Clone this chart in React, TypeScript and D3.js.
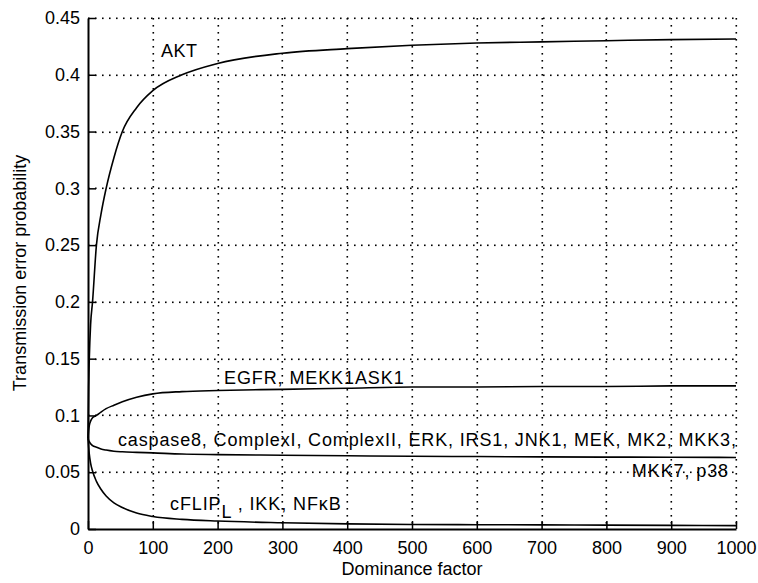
import React, { useEffect, useRef } from 'react'
import * as d3 from 'd3'

// dominance factor samples (shared by all curves)
const dominance = [0, 1, 2, 4, 7, 13, 20, 28, 40, 53, 75, 100, 145, 200, 300, 400, 500, 600, 700, 800, 900, 1000]

const akt = [0.08, 0.125, 0.15, 0.18, 0.2, 0.25, 0.277, 0.3, 0.327, 0.35, 0.371, 0.386, 0.4, 0.41, 0.419, 0.423, 0.426, 0.428, 0.429, 0.43, 0.431, 0.4315]
const egfr = [0.08, 0.087, 0.091, 0.095, 0.098, 0.1, 0.103, 0.106, 0.109, 0.112, 0.116, 0.119, 0.121, 0.122, 0.123, 0.124, 0.125, 0.125, 0.1255, 0.1255, 0.126, 0.126]
const caspase = [0.08, 0.078, 0.077, 0.075, 0.0735, 0.072, 0.0705, 0.0695, 0.0685, 0.068, 0.0675, 0.067, 0.066, 0.0655, 0.065, 0.0645, 0.064, 0.0638, 0.0635, 0.0633, 0.0632, 0.063]
const cflip = [0.08, 0.072, 0.066, 0.058, 0.051, 0.042, 0.035, 0.029, 0.023, 0.019, 0.014, 0.011, 0.0085, 0.007, 0.0055, 0.0045, 0.004, 0.0038, 0.0036, 0.0034, 0.0032, 0.003]

const xTicks = [0, 100, 200, 300, 400, 500, 600, 700, 800, 900, 1000]
const yTicks = [0, 0.05, 0.1, 0.15, 0.2, 0.25, 0.3, 0.35, 0.4, 0.45]

const FONT = '"Liberation Sans", Arial, sans-serif'

export default function App() {
  const ref = useRef<SVGSVGElement>(null)

  useEffect(() => {
    if (!ref.current) return
    const svg = d3.select(ref.current)
    svg.selectAll('*').remove()

    const x = d3.scaleLinear().domain([0, 1000]).range([88, 736])
    const y = d3.scaleLinear().domain([0, 0.45]).range([529, 18])

    svg.append('rect').attr('width', 758).attr('height', 583).attr('fill', '#fff')

    // dotted grid, drawn as small square dots
    const step = 7
    const dots = svg.append('g').attr('fill', '#000')
    xTicks.slice(1).forEach((t) => {
      const gx = Math.round(x(t))
      d3.range(y(0.45), y(0), step).forEach((gy) => {
        dots.append('rect').attr('x', gx - 0.5).attr('y', Math.round(gy)).attr('width', 1.6).attr('height', 1.6)
      })
    })
    yTicks.slice(1).forEach((t) => {
      const gy = Math.round(y(t))
      d3.range(x(0), x(1000), step).forEach((gx) => {
        dots.append('rect').attr('x', Math.round(gx)).attr('y', gy - 0.5).attr('width', 1.6).attr('height', 1.6)
      })
    })

    // curves
    const line = d3
      .line<number>()
      .x((_, i) => x(dominance[i]))
      .y((d) => y(d))
      .curve(d3.curveMonotoneX)
    ;[akt, egfr, caspase, cflip].forEach((s) => {
      svg.append('path').attr('d', line(s)).attr('fill', 'none').attr('stroke', '#000').attr('stroke-width', 1.6)
    })

    // axes
    const xAxis = svg
      .append('g')
      .attr('transform', `translate(0,${y(0)})`)
      .call(d3.axisBottom(x).tickValues(xTicks).tickSizeInner(-8).tickSizeOuter(0).tickPadding(12).tickFormat(d3.format('d')))
    const yAxis = svg
      .append('g')
      .attr('transform', `translate(${x(0)},0)`)
      .call(d3.axisLeft(y).tickValues(yTicks).tickSizeInner(-8).tickSizeOuter(0).tickPadding(8).tickFormat((d) => String(+d)))
    ;[xAxis, yAxis].forEach((a) => {
      a.selectAll('text').attr('font-family', FONT).attr('font-size', 18).attr('fill', '#000')
      a.selectAll('line').attr('stroke', '#000').attr('stroke-width', 1.5)
      a.select('.domain').attr('stroke', '#000').attr('stroke-width', 2)
    })

    const txt = (s: string, tx: number, ty: number, anchor = 'start', spacing = 0) =>
      svg
        .append('text')
        .attr('x', tx)
        .attr('y', ty)
        .attr('text-anchor', anchor)
        .attr('font-family', FONT)
        .attr('font-size', 18)
        .attr('letter-spacing', spacing)
        .attr('fill', '#000')
        .text(s)

    // axis titles
    txt('Dominance factor', 412, 575, 'middle')
    txt('Transmission error probability', 0, 0, 'middle').attr('transform', 'translate(26,273) rotate(-90)')

    // curve labels
    txt('AKT', 161, 57, 'start', 0.5)
    txt('EGFR, MEKK1ASK1', 224, 384, 'start', 0.9)
    txt('caspase8, ComplexI, ComplexII, ERK, IRS1, JNK1, MEK, MK2, MKK3,', 118, 446, 'start', 0.85)
    txt('MKK7, p38', 729, 477, 'end', 0.9)
    const cf = txt('cFLIP', 170, 510, 'start', 0.9)
    cf.append('tspan').attr('dy', 8).text('L')
    cf.append('tspan').attr('dy', -8).text(' , IKK, NFκB')
  }, [])

  return (
    <svg
      ref={ref}
      width={758}
      height={583}
      style={{ position: 'absolute', left: 0, top: 0, display: 'block' }}
    />
  )
}
